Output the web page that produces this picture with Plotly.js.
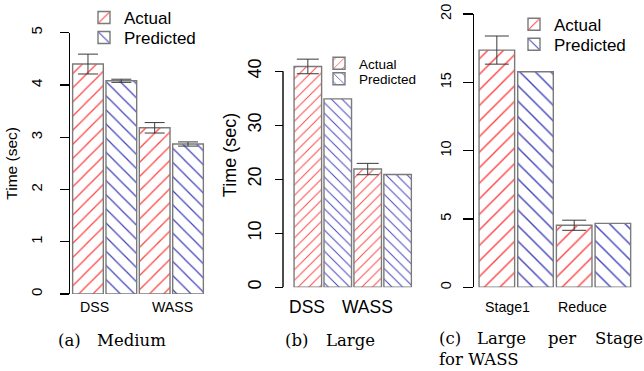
<!DOCTYPE html>
<html><head><meta charset="utf-8">
<script src="https://cdn.plot.ly/plotly-3.0.1.min.js"></script>
<style>html,body{margin:0;padding:0;background:#fff}#chart{width:644px;height:371px}</style>
</head><body><div id="chart"></div>
<script>
// ---- data ----
const seriesNames = ['Actual', 'Predicted'];
// (a) Medium
const catsA = ['DSS', 'WASS'];
const actualA = [4.40, 3.18];
const actualErrA = [0.19, 0.10];
const predA = [4.08, 2.87];
const predErrA = [0.03, 0.04];
const ticksA = [0, 1, 2, 3, 4, 5];
// (b) Large
const catsB = ['DSS', 'WASS'];
const actualB = [40.9, 21.9];
const actualErrB = [1.35, 1.05];
const predB = [34.9, 20.9];
const ticksB = [0, 10, 20, 30, 40];
// (c) Large per Stage for WASS
const catsC = ['Stage1', 'Reduce'];
const actualC = [17.36, 4.54];
const actualErrC = [1.03, 0.37];
const predC = [15.77, 4.68];
const ticksC = [0, 5, 10, 15, 20];

// ---- helpers ----
const W = 644, H = 371;
const fx = p => p / W, fy = p => 1 - p / H;
const SANS = 'Liberation Sans';
const SERIF = 'DejaVu Serif';
const RED = 'rgb(255,70,70)', BLUE = 'rgb(70,70,190)';

function barTrace(x, y, err, name, xa, ya, legend, color, shape, size, capw) {
  const t = {
    type: 'bar', x: x, y: y, name: name, xaxis: xa, yaxis: ya, legend: legend,
    marker: {
      color: 'white',
      line: {color: '#7a7a7a', width: 1.4},
      pattern: {shape: shape, fgcolor: color, bgcolor: 'white', size: size, solidity: 0.13, fillmode: 'replace'}
    },
    hoverinfo: 'skip'
  };
  if (err) t.error_y = {type: 'data', array: err, visible: true, color: '#3a3a3a', thickness: 1, width: capw};
  return t;
}

const data = [
  barTrace(catsA, actualA, actualErrA, seriesNames[0], 'x', 'y', 'legend', RED, '/', 10, 10),
  barTrace(catsA, predA, predErrA, seriesNames[1], 'x', 'y', 'legend2', BLUE, '\\', 10, 10),
  barTrace(catsB, actualB, actualErrB, seriesNames[0], 'x2', 'y2', 'legend3', RED, '/', 7.5, 11),
  barTrace(catsB, predB, null, seriesNames[1], 'x2', 'y2', 'legend4', BLUE, '\\', 7.5, 11),
  barTrace(catsC, actualC, actualErrC, seriesNames[0], 'x3', 'y3', 'legend5', RED, '/', 11, 12),
  barTrace(catsC, predC, null, seriesNames[1], 'x3', 'y3', 'legend6', BLUE, '\\', 11, 12)
];

function xax(d0, d1, yname) {
  return {domain: [fx(d0), fx(d1)], anchor: yname, type: 'category', showticklabels: false,
          showline: false, ticks: '', showgrid: false, zeroline: false, fixedrange: true};
}
function yax(top, bottom, range, pos, ticks, fs, len, standoff, showline) {
  return {domain: [fy(bottom), fy(top)], range: range, anchor: 'free', position: fx(pos),
          showline: showline, linecolor: 'black', linewidth: 1.4,
          ticks: 'outside', ticklen: len, tickwidth: 1.4, tickcolor: 'black',
          tickmode: 'array', tickvals: ticks, tickangle: -90, ticklabelstandoff: standoff,
          tickfont: {size: fs, family: SANS, color: 'black'},
          showgrid: false, zeroline: false, fixedrange: true};
}
function leg(xp, yp, fs) {
  return {x: fx(xp), y: fy(yp), xanchor: 'left', yanchor: 'middle', bgcolor: 'rgba(0,0,0,0)',
          font: {size: fs, family: SANS, color: 'black'}, borderwidth: 0};
}

const ya = yax(32.7, 294, [0, 5], 69, ticksA, 15, 9.5, 12, true);
ya.title = {text: 'Time (sec)', font: {size: 15.5, family: SANS, color: 'black'}, standoff: 4};
const yb = yax(22.7, 287.3, [0, 49], 283, ticksB, 18, 8, 7, false);
yb.title = {text: 'Time (sec)', font: {size: 18, family: SANS, color: 'black'}, standoff: 2};
const yc = yax(14, 287.3, [0, 20], 472.7, ticksC, 14.5, 9.4, 7, true);

const catLabel = (xa, cat, shift, fs) => ({xref: xa, yref: 'paper', x: cat, y: fy(306.5), xshift: shift,
  text: cat, showarrow: false, xanchor: 'center', yanchor: 'middle', font: {size: fs, family: SANS, color: 'black'}});
const cap = (px, py, txt) => ({xref: 'paper', yref: 'paper', x: fx(px), y: fy(py), text: txt, showarrow: false,
  xanchor: 'left', yanchor: 'middle', font: {size: 16.5, family: SERIF, color: 'black'}});

const layout = {
  width: W, height: H, margin: {l: 0, r: 0, t: 0, b: 0}, paper_bgcolor: 'white', plot_bgcolor: 'white',
  barmode: 'group', bargap: 0, bargroupgap: 0.08,
  xaxis: xax(71.3, 204.7, 'y'), yaxis: ya,
  xaxis2: xax(286.8, 412.6, 'y2'), yaxis2: yb,
  xaxis3: xax(477.5, 632.2, 'y3'), yaxis3: yc,
  legend: leg(84, 18, 17), legend2: leg(84, 38, 17),
  legend3: leg(319, 63.5, 13.5), legend4: leg(319, 79, 13.5),
  legend5: leg(514, 24.7, 17), legend6: leg(514, 44.7, 17),
  shapes: [
    {type: 'line', xref: 'paper', yref: 'y2', x0: fx(283), x1: fx(283), y0: 0, y1: 40, line: {color: 'black', width: 1.4}}
  ],
  annotations: [
    catLabel('x', catsA[0], -10, 14.2), catLabel('x', catsA[1], 1, 14.2),
    catLabel('x2', catsB[0], -16, 17.5), catLabel('x2', catsB[1], -15, 17.5),
    catLabel('x3', catsC[0], -9, 14.2), catLabel('x3', catsC[1], -11, 14.2),
    cap(56, 340, '(a)'), cap(95, 340, 'Medium'),
    cap(283, 340, '(b)'), cap(324, 340, 'Large'),
    cap(437, 338.5, '(c)'), cap(475, 338.5, 'Large'), cap(546, 338.5, 'per'), cap(593, 338.5, 'Stage'),
    cap(437, 359.5, 'for WASS')
  ],
  showlegend: true,
  font: {family: SANS, color: 'black'}
};

Plotly.newPlot('chart', data, layout, {displayModeBar: false, staticPlot: true});
</script>
</body></html>
